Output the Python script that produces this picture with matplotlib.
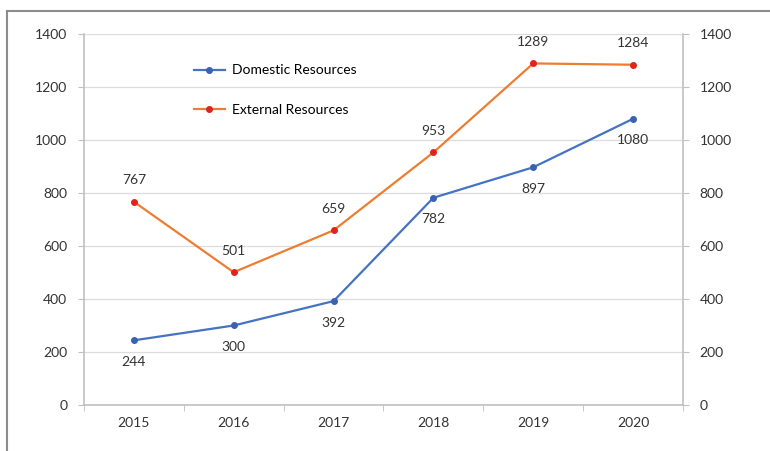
import matplotlib.pyplot as plt
from matplotlib.lines import Line2D

years = ['2015', '2016', '2017', '2018', '2019', '2020']
domestic = [244, 300, 392, 782, 897, 1080]
external = [767, 501, 659, 953, 1289, 1284]

plt.rcParams['font.family'] = ['Lato', 'DejaVu Sans']

fig = plt.figure(figsize=(7.7, 4.51), dpi=100)
ax = fig.add_axes([0.109, 0.102, 0.778, 0.8226])

x = range(len(years))
ax.plot(x, domestic, color='#4472C4', lw=1.6, marker='o', ms=4,
        mfc='#3a62b0', mec='#3a62b0', label='Domestic Resources')
ax.plot(x, external, color='#ED7D31', lw=1.6, marker='o', ms=4,
        mfc='#e0241c', mec='#e0241c', label='External Resources')

# value labels: domestic below the points, external above
for i, v in enumerate(domestic):
    ax.annotate(str(v), (i, v), xytext=(0, -15.5), textcoords='offset points',
                ha='center', va='center', fontsize=10, color='#333333')
for i, v in enumerate(external):
    ax.annotate(str(v), (i, v), xytext=(0, 15.5), textcoords='offset points',
                ha='center', va='center', fontsize=10, color='#333333')

ax.set_xlim(-0.5, 5.5)
ax.set_ylim(0, 1400)
ax.set_yticks(range(0, 1401, 200))
ax.set_xticks(list(x))
ax.set_xticklabels(years)
ax.set_xticks([i - 0.5 for i in range(7)], minor=True)
ax.grid(axis='y', color='#dcdcdc', lw=0.9)
ax.set_axisbelow(True)

ax.spines['top'].set_visible(False)
for s in ['left', 'right', 'bottom']:
    ax.spines[s].set_color('#c0c0c0')
    ax.spines[s].set_linewidth(1.2)

ax.tick_params(axis='x', which='major', length=0, pad=9, labelsize=10, labelcolor='#333333')
ax.tick_params(axis='x', which='minor', length=4, color='#c0c0c0', direction='out')
ax.tick_params(axis='y', length=4, color='#c0c0c0', labelsize=10, labelcolor='#333333',
               right=True, labelright=True, pad=8)

ax.legend(loc='upper left', bbox_to_anchor=(0.236, 0.885), bbox_transform=fig.transFigure,
          frameon=False, fontsize=10, handlelength=2.2, labelspacing=2.0, handletextpad=0.5)

# outer frame of the chart area
fig.add_artist(Line2D([0.009, 1.0], [0.9756, 0.9756], color='#8c8c8c', lw=1.5))
fig.add_artist(Line2D([0.009, 0.009], [0.0, 0.9756], color='#8c8c8c', lw=1.5))

fig.savefig('out.png', dpi=100)
